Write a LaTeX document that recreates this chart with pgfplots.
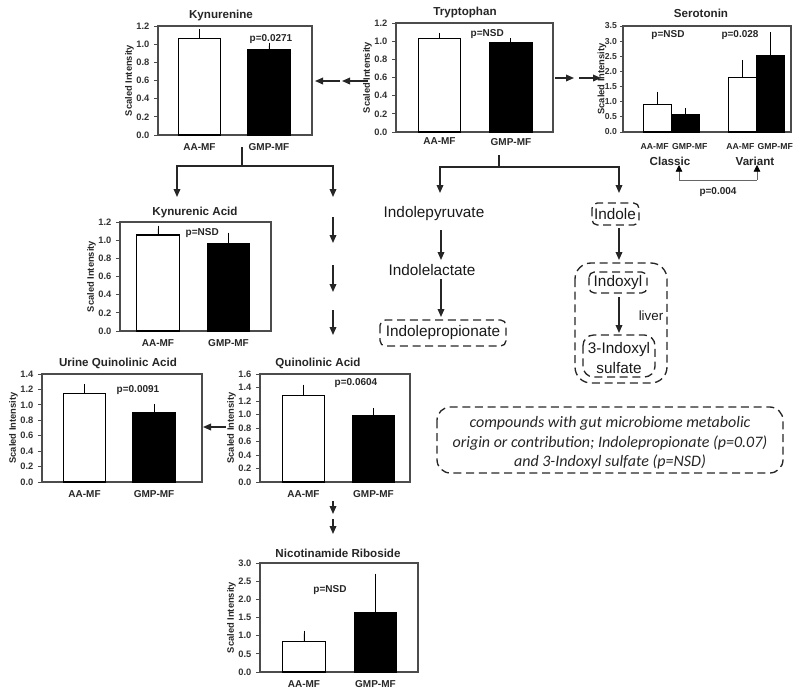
\documentclass[border=0pt]{standalone}
\usepackage{pgfplots}
\pgfplotsset{compat=1.18}
\usepackage{fontspec}
\setmainfont{Liberation Sans}
\newfontfamily\calibri{Carlito}
\usetikzlibrary{arrows.meta}
\newcommand{\fs}[1]{\fontsize{#1}{#1}\selectfont}
\pgfplotsset{
  panel/.style={scale only axis, anchor=south west, ymin=0, clip=false,
    axis line style={black!70, line width=0.8pt},
    ytick pos=left, tick align=outside, major tick length=3pt,
    tick style={black!70, line width=0.6pt},
    xtick={1,2}, xticklabels={AA-MF,GMP-MF}, xtick style={draw=none},
    /pgf/number format/assume math mode=true,
    yticklabel style={font=\fs{7}\bfseries, text=black!80,
      /pgf/number format/fixed, /pgf/number format/fixed zerofill,
      /pgf/number format/precision=1},
    xticklabel style={font=\fs{7.5}\bfseries, text=black!85},
    ylabel={Scaled Intensity}, ylabel style={font=\fs{7}\bfseries, text=black!85, yshift=-5pt}},
  wbar/.style={/tikz/ybar, bar width=#1, fill=white, draw=black, line width=0.8pt,
    error bars/y dir=plus, error bars/y explicit,
    error bars/error bar style={line width=0.7pt, black},
    error bars/error mark options={mark size=2.2pt, line width=0.7pt, black}},
  bbar/.style={wbar=#1, fill=black},
}
\tikzset{arr/.style={line width=1pt, black!85, -{Triangle[length=6pt,width=5pt]}},
  dbox/.style={line width=1pt, black!85, dash pattern=on 6pt off 3.5pt, rounded corners=#1}}
\begin{document}
\begin{tikzpicture}
\begin{scope}[x=0.75pt,y=-0.75pt]
\path[use as bounding box] (0,0) rectangle (800,685);
\coordinate (Kyn) at (158,135);
\coordinate (Trp) at (396,132);
\coordinate (Ser) at (623,132);
\coordinate (Kna) at (120,331);
\coordinate (Uqa) at (42,482);
\coordinate (Qa) at (260,482);
\coordinate (Nr) at (260,672);
\end{scope}

% Kynurenine
\begin{axis}[panel, at={(Kyn)}, width=115.5pt, height=81.75pt, xmin=0.403, xmax=2.619,
  ymax=1.2, ytick={0,0.2,0.4,0.6,0.8,1.0,1.2}]
\addplot[wbar=32pt] coordinates {(1,1.065) +- (0,0.065)};
\addplot[bbar=32pt] coordinates {(2,0.94) +- (0,0.045)};
\end{axis}

% Tryptophan
\begin{axis}[panel, at={(Trp)}, width=117.75pt, height=81.75pt, xmin=0.392, xmax=2.588,
  ymax=1.2, ytick={0,0.2,0.4,0.6,0.8,1.0,1.2}, xticklabel style={yshift=2pt}]
\addplot[wbar=32pt] coordinates {(1,1.03) +- (0,0.03)};
\addplot[bbar=32pt] coordinates {(2,0.985) +- (0,0.02)};
\end{axis}

% Serotonin
\begin{axis}[panel, at={(Ser)}, width=126pt, height=79.5pt, xmin=-0.219, xmax=5.717,
  ymax=3.5, ytick={0,0.5,1.0,1.5,2.0,2.5,3.0,3.5}, major tick length=2pt,
  yticklabel style={font=\fs{6.5}\bfseries, xshift=1pt},
  ylabel style={yshift=-3pt},
  xtick={0.9,2.14,3.93,5.16}, xticklabels={AA-MF,GMP-MF,AA-MF,GMP-MF},
  xticklabel style={font=\fs{6.5}\bfseries, yshift=-3pt}]
\addplot[wbar=21pt] coordinates {(1,0.91) +- (0,0.33)};
\addplot[bbar=21pt] coordinates {(2,0.58) +- (0,0.11)};
\addplot[wbar=21pt] coordinates {(4,1.79) +- (0,0.48)};
\addplot[bbar=21pt] coordinates {(5,2.53) +- (0,0.66)};
\end{axis}

% Kynurenic Acid
\begin{axis}[panel, at={(Kna)}, width=113.25pt, height=81.75pt, xmin=0.461, xmax=2.603,
  ymax=1.2, ytick={0,0.2,0.4,0.6,0.8,1.0,1.2}]
\addplot[wbar=32pt] coordinates {(1,1.057) +- (0,0.07)};
\addplot[bbar=32pt] coordinates {(2,0.965) +- (0,0.085)};
\end{axis}

% Urine Quinolinic Acid
\begin{axis}[panel, at={(Uqa)}, width=120pt, height=81pt, xmin=0.388, xmax=2.69,
  ymax=1.4, ytick={0,0.2,0.4,0.6,0.8,1.0,1.2,1.4}]
\addplot[wbar=32pt] coordinates {(1,1.15) +- (0,0.085)};
\addplot[bbar=32pt] coordinates {(2,0.905) +- (0,0.07)};
\end{axis}

% Quinolinic Acid
\begin{axis}[panel, at={(Qa)}, width=112.5pt, height=81pt, xmin=0.379, xmax=2.522,
  ymax=1.6, ytick={0,0.2,0.4,0.6,0.8,1.0,1.2,1.4,1.6}]
\addplot[wbar=32pt] coordinates {(1,1.28) +- (0,0.12)};
\addplot[bbar=32pt] coordinates {(2,0.99) +- (0,0.065)};
\end{axis}

% Nicotinamide Riboside
\begin{axis}[panel, at={(Nr)}, width=118.5pt, height=81.75pt, xmin=0.385, xmax=2.595,
  ymax=3.0, ytick={0,0.5,1.0,1.5,2.0,2.5,3.0}]
\addplot[wbar=32pt] coordinates {(1,0.83) +- (0,0.23)};
\addplot[bbar=32pt] coordinates {(2,1.65) +- (0,0.98)};
\end{axis}

\begin{scope}[x=0.75pt,y=-0.75pt]
% titles
\begin{scope}[every node/.style={font=\fs{8.7}\bfseries, text=black!85}]
\node at (221,15) {Kynurenine};
\node at (465,12) {Tryptophan};
\node at (701,13) {Serotonin};
\node at (195,212) {Kynurenic Acid};
\node at (118,363) {Urine Quinolinic Acid};
\node at (318,363) {Quinolinic Acid};
\node at (338,553) {Nicotinamide Riboside};
\node at (670,161) {Classic};
\node at (755,161) {Variant};
\end{scope}
% p values
\begin{scope}[every node/.style={font=\fs{7.5}\bfseries, text=black!85}]
\node[anchor=west] at (245,39) {p=0.0271};
\node[anchor=west] at (466,34) {p=NSD};
\node at (668,35) {p=NSD};
\node at (740,35) {p=0.028};
\node[anchor=west] at (181,233) {p=NSD};
\node[anchor=west] at (112,390) {p=0.0091};
\node[anchor=west] at (330,383) {p=0.0604};
\node at (330,590) {p=NSD};
\node at (718,192) {p=0.004};
\end{scope}
% arrows Trp -> Kyn, Ser
\draw[arr] (340,81) -- (315,81);
\draw[arr] (368,81) -- (342,81);
\draw[arr] (555,78) -- (574,78);
\draw[arr] (579,78) -- (601,78);
% Kyn tree
\draw[line width=1pt, black!85] (242,147) -- (242,166);
\draw[arr] (242,166) -| (177,197);
\draw[arr] (242,166) -| (333,197);
\draw[arr] (333,217) -- (333,243);
\draw[arr] (333,265) -- (333,292);
\draw[arr] (333,310) -- (333,335);
% QA -> urine, NR
\draw[arr] (226,427) -- (203,427);
\draw[arr] (333,501) -- (333,514);
\draw[arr] (333,519) -- (333,534);
% Trp tree
\draw[line width=1pt, black!85] (499,155) -- (499,167);
\draw[arr] (499,167) -| (440,193);
\draw[arr] (499,167) -| (619,193);
\draw[arr] (441,230) -- (441,260);
\draw[arr] (441,279) -- (441,317);
\draw[arr] (619,228) -- (619,260);
\draw[arr] (619,297) -- (619,333);
% serotonin bracket
\draw[line width=0.6pt, black!60] (679,180) -- (757,180);
\draw[line width=0.6pt, black!60, -{Triangle[length=5pt,width=5pt,fill=black,color=black]}] (679,180) -- (679,165);
\draw[line width=0.6pt, black!60, -{Triangle[length=5pt,width=5pt,fill=black,color=black]}] (757,180) -- (757,165);
% compound texts
\begin{scope}[every node/.style={font=\fs{11.5}, text=black!90}]
\node at (434,214) {Indolepyruvate};
\node at (432,270) {Indolelactate};
\node at (443,333) {Indolepropionate};
\node at (615,214) {Indole};
\node at (618,283) {Indoxyl};
\node at (619,350) {3-Indoxyl};
\node at (619,368) {sulfate};
\node[font=\fs{10}] at (651,316) {liver};
\end{scope}
% dashed boxes
\draw[dbox=4pt] (380,320) rectangle (506,346);
\draw[dbox=4pt] (592,203) rectangle (639,225);
\draw[dbox=12pt] (575,263) rectangle (667,383);
\draw[dbox=4pt] (589,272) rectangle (647,293);
\draw[dbox=8pt] (583,335) rectangle (655,377);
\draw[dbox=10pt] (437,407) rectangle (783,473);
\begin{scope}[every node/.style={font=\calibri\itshape\fs{12}, text=black!85}]
\node at (610,423) {compounds with gut microbiome metabolic};
\node at (610,443) {origin or contribution; Indolepropionate (p=0.07)};
\node at (610,462) {and 3-Indoxyl sulfate (p=NSD)};
\end{scope}
\end{scope}
\end{tikzpicture}
\end{document}
